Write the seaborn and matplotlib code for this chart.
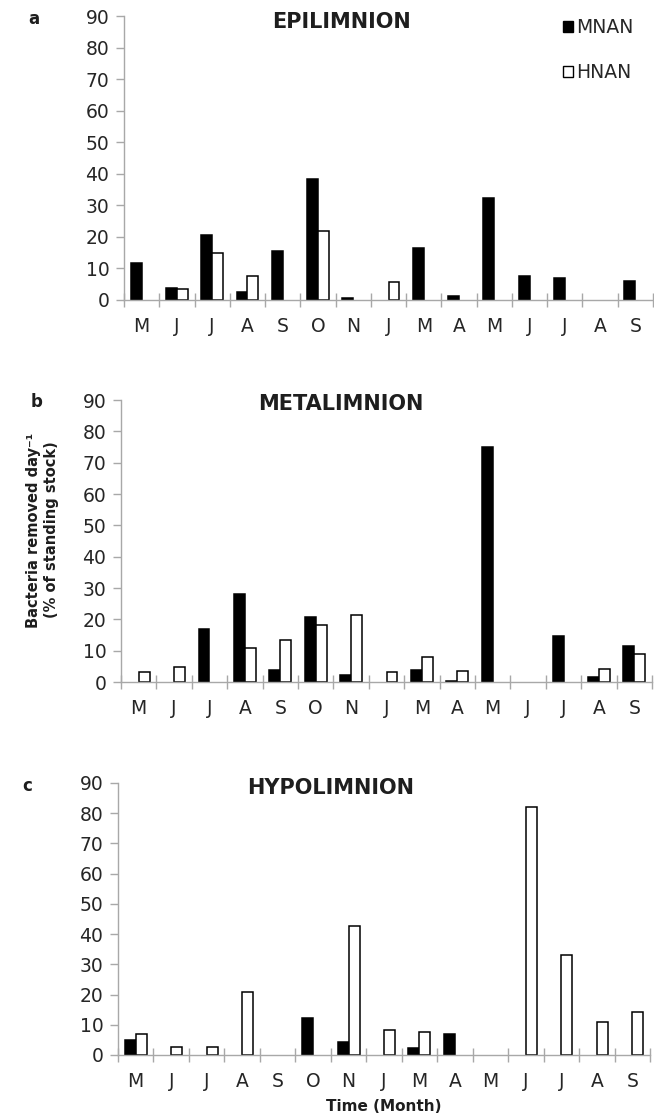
import numpy as np
import pandas as pd
import matplotlib
matplotlib.use("Agg")
import matplotlib.pyplot as plt
from matplotlib.patches import Patch
import seaborn as sns

# Sampling months (May of year 1 through September of year 2)
months = ["M", "J", "J", "A", "S", "O", "N", "J", "M", "A", "M", "J", "J", "A", "S"]
fractions = ["MNAN", "HNAN"]

# Bacteria removed per day (% of standing stock)
epi_mnan = [11.7, 3.8, 20.5, 2.5, 15.4, 38.2, 0.5, 0, 16.5, 1.4, 32.4, 7.7, 7.1, 0, 5.9]
epi_hnan = [0, 3.4, 14.8, 7.7, 0, 21.9, 0, 5.7, 0, 0, 0, 0, 0, 0, 0]

meta_mnan = [0, 0, 16.9, 28.2, 3.7, 20.6, 2.1, 0, 3.8, 0.3, 74.9, 0, 14.6, 1.5, 11.6]
meta_hnan = [3.3, 4.9, 0, 10.9, 13.3, 18.2, 21.3, 3.1, 8.0, 3.5, 0, 0, 0, 4.2, 9.0]

hypo_mnan = [4.8, 0, 0, 0, 0, 12.1, 4.3, 0, 2.4, 6.8, 0, 0, 0, 0, 0]
hypo_hnan = [6.8, 2.5, 2.5, 20.9, 0, 0, 42.7, 8.4, 7.6, 0, 0, 82.0, 33.2, 11.0, 14.1]

yticks = list(range(0, 91, 10))

sns.set_theme(style="white")
plt.rcParams["font.family"] = ["DejaVu Sans"]

W, H = 654, 1120
fig = plt.figure(figsize=(W / 100, H / 100), dpi=100)
fig.patch.set_facecolor("white")

AXIS_GREY = "#a8a8a8"
TEXT = "#262626"
palette = {"MNAN": "black", "HNAN": "white"}


def px_axes(left, right, top, bottom):
    return fig.add_axes([left / W, 1 - bottom / H, (right - left) / W, (bottom - top) / H])


def layer_frame(mnan, hnan):
    n = len(months)
    return pd.DataFrame({
        "period": list(range(n)) * 2,
        "fraction": ["MNAN"] * n + ["HNAN"] * n,
        "value": list(mnan) + list(hnan),
    })


panels = [
    # (mnan, hnan, axes box px, title, title xy px, tag, tag xy px)
    (epi_mnan, epi_hnan, (124, 653, 16, 300), "EPILIMNION", (341, 22), "a", (34, 19)),
    (meta_mnan, meta_hnan, (121, 652, 400, 682), "METALIMNION", (341, 404), "b", (37, 402)),
    (hypo_mnan, hypo_hnan, (118, 650, 783, 1055), "HYPOLIMNION", (331, 788), "c", (27, 786)),
]

axes = []
for mnan, hnan, box, title, txy, tag, gxy in panels:
    ax = px_axes(*box)
    df = layer_frame(mnan, hnan)
    sns.barplot(data=df, x="period", y="value", hue="fraction", hue_order=fractions,
                palette=palette, saturation=1, edgecolor="black", linewidth=1.1,
                width=0.62, gap=0, errorbar=None, legend=False, ax=ax)
    # empty months carry no bar
    for p in ax.patches:
        if p.get_height() == 0:
            p.set_visible(False)

    ax.set_xlim(-0.5, len(months) - 0.5)
    ax.set_ylim(0, 90)
    ax.set_yticks(yticks)
    ax.set_xticks(range(len(months)), labels=months)
    ax.set_xticks(np.arange(-0.5, len(months), 1.0), minor=True)
    ax.set_xlabel("")
    ax.set_ylabel("")

    for s in ["top", "right"]:
        ax.spines[s].set_visible(False)
    for s in ["left", "bottom"]:
        ax.spines[s].set_color(AXIS_GREY)
        ax.spines[s].set_linewidth(1.0)

    ax.tick_params(axis="y", which="major", left=True, length=5.5, width=1,
                   color=AXIS_GREY, direction="out", pad=5, labelsize=13.5, labelcolor=TEXT)
    ax.tick_params(axis="x", which="major", bottom=True, length=0, pad=12,
                   labelsize=13.5, labelcolor=TEXT)
    ax.tick_params(axis="x", which="minor", bottom=True, length=10, width=1,
                   color=AXIS_GREY, direction="inout")

    fig.text(txy[0] / W, 1 - txy[1] / H, title, ha="center", va="center",
             fontsize=15, fontweight="bold", color="#1e1e1e")
    fig.text(gxy[0] / W, 1 - gxy[1] / H, tag, ha="center", va="center",
             fontsize=12, fontweight="bold", color="#1e1e1e")
    axes.append(ax)

# legend in the epilimnion panel
handles = [Patch(facecolor=palette[f], edgecolor="black", linewidth=1.0, label=f)
           for f in fractions]
axes[0].legend(handles=handles, loc="upper left", bbox_to_anchor=(563 / W, 1 - 18 / H),
               bbox_transform=fig.transFigure, frameon=False, fontsize=13.5,
               handlelength=0.55, handleheight=0.55, handletextpad=0.15,
               labelspacing=1.4, borderpad=0, borderaxespad=0, labelcolor=TEXT)

# shared axis titles
fig.text(43 / W, 1 - 530 / H, "Bacteria removed day\u207b\u00b9\n(% of standing stock)",
         rotation=90, ha="center", va="center", multialignment="center",
         fontsize=10.5, fontweight="bold", color="#1e1e1e", linespacing=1.25)
axes[2].set_xlabel("Time (Month)", fontsize=11, fontweight="bold", color="#1e1e1e", labelpad=6)

fig.savefig("out.png", dpi=100, facecolor="white")
